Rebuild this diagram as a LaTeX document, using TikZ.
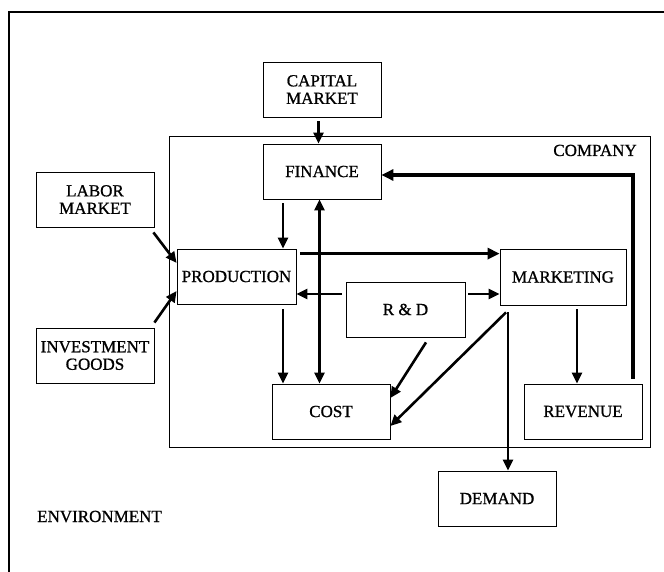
\documentclass[tikz,border=0pt]{standalone}
\usepackage{fontspec}
\setmainfont{Liberation Serif}
\newfontfamily\diagfont[FakeBold=0.9]{Liberation Serif}
\usetikzlibrary{arrows.meta}
\begin{document}
\begin{tikzpicture}[x=1pt,y=-1pt,
  txt/.style={font=\diagfont\fontsize{17}{17.5}\selectfont, inner sep=0pt},
  box/.style={draw, line width=0.8pt, minimum width=118pt, minimum height=55pt,
              inner sep=0pt, align=center, font=\diagfont\fontsize{17}{17.5}\selectfont},
  arr/.style={line width=2.6pt, -{Triangle[length=11pt,width=10pt]}},
  dblarr/.style={line width=2.6pt, {Triangle[length=11pt,width=10pt]}-{Triangle[length=11pt,width=10pt]}},
  heavy/.style={line width=3.8pt, -{Triangle[length=12pt,width=11pt]}}
]
\useasboundingbox (0,0) rectangle (664,572);
% environment frame and company frame
\draw[line width=1.6pt] (9,572) -- (9,12) -- (664,12);
\draw[line width=0.8pt] (169,136) rectangle (650,447);
\node[txt, anchor=base east] (complbl) at (637,156) {COMPANY};
\node[txt, anchor=base west] (envlbl) at (37,522) {ENVIRONMENT};

% boxes
\node[box] (cap) at (322,89.5) {CAPITAL\\MARKET};
\node[box] (fin) at (322,171.5) {FINANCE};
\node[box] (labor) at (95,199.5) {LABOR\\MARKET};
\node[box, minimum width=119pt] (prod) at (236.5,276.5) {PRODUCTION};
\node[box, minimum width=126pt, minimum height=56pt] (mkt) at (563,277) {MARKETING};
\node[box, minimum width=119pt] (rd) at (405.5,309.5) {R \& D};
\node[box] (inv) at (95,355.5) {INVESTMENT\\GOODS};
\node[box] (cost) at (331,411.5) {COST};
\node[box] (rev) at (583,411.5) {REVENUE};
\node[box] (dem) at (497,498.5) {DEMAND};

% connectors
\draw[arr] ([xshift=-3.5pt,yshift=-4pt]cap.south) -- ([xshift=-3.5pt]fin.north);
\draw[arr] ([xshift=-39pt,yshift=-4pt]fin.south) -- ([xshift=46.5pt]prod.north);
\draw[dblarr] ([xshift=-2.5pt]fin.south) -- ([xshift=-11.5pt]cost.north);
\draw[heavy] ([xshift=4pt,yshift=-5pt]prod.north east) -- ([yshift=-5pt]mkt.north west);
\draw[arr] ([xshift=-4pt,yshift=15.5pt]rd.west) -- ([yshift=-17.5pt]prod.east);
\draw[arr] ([xshift=3pt,yshift=15.5pt]rd.east) -- ([yshift=-17pt]mkt.west);
\draw[arr] ([xshift=-1pt,yshift=-5pt]labor.south east) -- ([yshift=13.5pt]prod.west);
\draw[arr] ([yshift=5pt]inv.north east) -- ([yshift=-14.5pt]prod.west);
\draw[arr] ([xshift=46.5pt,yshift=-5pt]prod.south) -- ([xshift=-48pt]cost.north);
\draw[arr] ([xshift=20.5pt,yshift=-5pt]rd.south) -- ([yshift=13.5pt]cost.east);
\draw[arr] ([xshift=-57pt,yshift=-7pt]mkt.south) -- ([yshift=-14.5pt]cost.east);
\draw[arr] ([xshift=-55pt,yshift=-7pt]mkt.south) -- ([xshift=11pt]dem.north);
\draw[arr] ([xshift=14pt,yshift=-4pt]mkt.south) -- ([xshift=-6pt]rev.north);
\draw[heavy] ([xshift=50pt,yshift=5pt]rev.north) |- ([yshift=-3.5pt]fin.east);
\end{tikzpicture}
\end{document}
